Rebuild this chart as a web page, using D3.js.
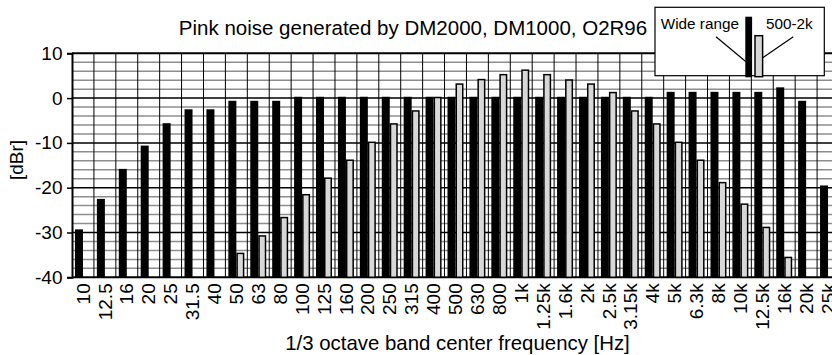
<!DOCTYPE html>
<html><head><meta charset="utf-8">
<script src="https://cdn.jsdelivr.net/npm/d3@7"></script>
<style>html,body{margin:0;padding:0;background:#fff;overflow:hidden}</style>
</head><body><svg id="c" width="832" height="355"></svg>
<script>
const categories = ["10","12.5","16","20","25","31.5","40","50","63","80","100","125","160","200","250","315","400","500","630","800","1k","1.25k","1.6k","2k","2.5k","3.15k","4k","5k","6.3k","8k","10k","12.5k","16k","20k","25k"];
const wideRange = [-29.3,-22.5,-15.8,-10.6,-5.6,-2.5,-2.5,-0.6,-0.6,-0.6,0.3,0.3,0.3,0.3,0.3,0.3,0.3,0.3,0.3,0.3,0.3,0.3,0.3,0.3,0.3,0.3,0.3,1.4,1.4,1.4,1.4,1.4,2.4,-0.6,-19.5];
const band500to2k = [null,null,null,null,null,null,null,-34.5,-30.6,-26.5,-21.4,-17.7,-13.7,-9.7,-5.6,-2.7,0.3,3.3,4.3,5.4,6.4,5.4,4.2,3.3,1.4,-2.7,-5.6,-9.7,-13.7,-18.7,-23.5,-28.7,-35.4,null,null];
const seriesNames = ["Wide range","500-2k"];
const yTicks = [10,0,-10,-20,-30,-40];
const yMinor = [8,6,4,2,-2,-4,-6,-8,-12,-14,-16,-18,-22,-24,-26,-28,-32,-34,-36,-38];
const titleText = "Pink noise generated by DM2000, DM1000, O2R96";
const xTitle = "1/3 octave band center frequency [Hz]";
const yTitle = "[dBr]";

const font = "'Liberation Sans', Arial, Helvetica, sans-serif";
const svg = d3.select("#c").style("font-family", font);
const L = 72, R = 839, T = 53.3, B = 277.3;

const x = d3.scaleBand().domain(categories).range([L, R]).padding(0);
const xs = d3.scaleBand().domain(seriesNames).range([0, x.bandwidth()]).paddingInner(0).paddingOuter(0.37);
const y = d3.scaleLinear().domain([-40, 10]).range([B, T]);

// minor grid
svg.append("g").selectAll("line").data(yMinor).join("line")
  .attr("x1", L).attr("x2", R).attr("y1", d => y(d)).attr("y2", d => y(d))
  .attr("stroke", "#8e8e8e").attr("stroke-width", 1.5);
// vertical grid
svg.append("g").selectAll("line").data(categories.slice(1)).join("line")
  .attr("x1", d => x(d)).attr("x2", d => x(d)).attr("y1", T).attr("y2", B)
  .attr("stroke", "#000").attr("stroke-width", 1);
// major grid
svg.append("g").selectAll("line").data(yTicks).join("line")
  .attr("x1", L).attr("x2", R).attr("y1", d => y(d)).attr("y2", d => y(d))
  .attr("stroke", "#000").attr("stroke-width", d => d === 10 || d === -40 ? 2 : 1.5);

// bars
const rows = categories.map((c, i) => ({c, w: wideRange[i], n: band500to2k[i]}));
svg.append("g").selectAll("rect").data(rows.filter(d => d.w != null)).join("rect")
  .attr("x", d => x(d.c) + xs(seriesNames[0]))
  .attr("width", xs.bandwidth())
  .attr("y", d => y(d.w))
  .attr("height", d => y(-40) - y(d.w))
  .attr("fill", "#000");
svg.append("g").selectAll("rect").data(rows.filter(d => d.n != null)).join("rect")
  .attr("x", d => x(d.c) + xs(seriesNames[1]) + 0.75)
  .attr("width", xs.bandwidth() - 1.5)
  .attr("y", d => y(d.n) + 0.75)
  .attr("height", d => y(-40) - y(d.n) - 0.75)
  .attr("fill", "#d8d8d8").attr("stroke", "#000").attr("stroke-width", 1.5);

// y axis
const ya = svg.append("g").attr("transform", `translate(${L},0)`)
  .call(d3.axisLeft(y).tickValues(yTicks).tickSize(5).tickPadding(4.5).tickFormat(d => String(d)));
ya.select(".domain").attr("stroke-width", 2);
ya.selectAll(".tick line").attr("stroke-width", 1.5);
ya.selectAll("text").attr("font-size", 19).attr("font-family", font).attr("fill", "#000");

// x axis
const xa = svg.append("g").attr("transform", `translate(0,${B})`)
  .call(d3.axisBottom(x).tickSize(0).tickPadding(0));
xa.select(".domain").remove();
xa.selectAll("text")
  .attr("transform", "rotate(-90)")
  .attr("text-anchor", "end")
  .attr("x", -6).attr("y", 0).attr("dy", "0.35em")
  .attr("font-size", 19).attr("font-family", font).attr("fill", "#000");

// titles
svg.append("text").attr("x", 413).attr("y", 35).attr("text-anchor", "middle")
  .attr("font-size", 20.5).text(titleText);
svg.append("text").attr("x", 457.5).attr("y", 350).attr("text-anchor", "middle")
  .attr("font-size", 20.4).text(xTitle);
svg.append("text").attr("transform", "translate(23,160) rotate(-90)").attr("text-anchor", "middle")
  .attr("font-size", 19).text(yTitle);

// legend
const lg = svg.append("g");
lg.append("rect").attr("x", 655).attr("y", 7.3).attr("width", 169.3).attr("height", 68.4)
  .attr("fill", "#fff").attr("stroke", "#000").attr("stroke-width", 1.2);
lg.append("line").attr("x1", 716).attr("y1", 36.7).attr("x2", 746).attr("y2", 61.7).attr("stroke", "#000").attr("stroke-width", 1.2);
lg.append("line").attr("x1", 793.3).attr("y1", 36.7).attr("x2", 758.3).attr("y2", 60.7).attr("stroke", "#000").attr("stroke-width", 1.2);
lg.append("rect").attr("x", 745.3).attr("y", 16.7).attr("width", 6.8).attr("height", 60.6).attr("fill", "#000");
lg.append("rect").attr("x", 755).attr("y", 35.7).attr("width", 7.6).attr("height", 41).attr("fill", "#d8d8d8").attr("stroke", "#000").attr("stroke-width", 1.5);
lg.append("text").attr("x", 660.7).attr("y", 29.3).attr("font-size", 15.3).text(seriesNames[0]);
lg.append("text").attr("x", 766).attr("y", 29.3).attr("font-size", 15.3).text(seriesNames[1]);
</script></body></html>
